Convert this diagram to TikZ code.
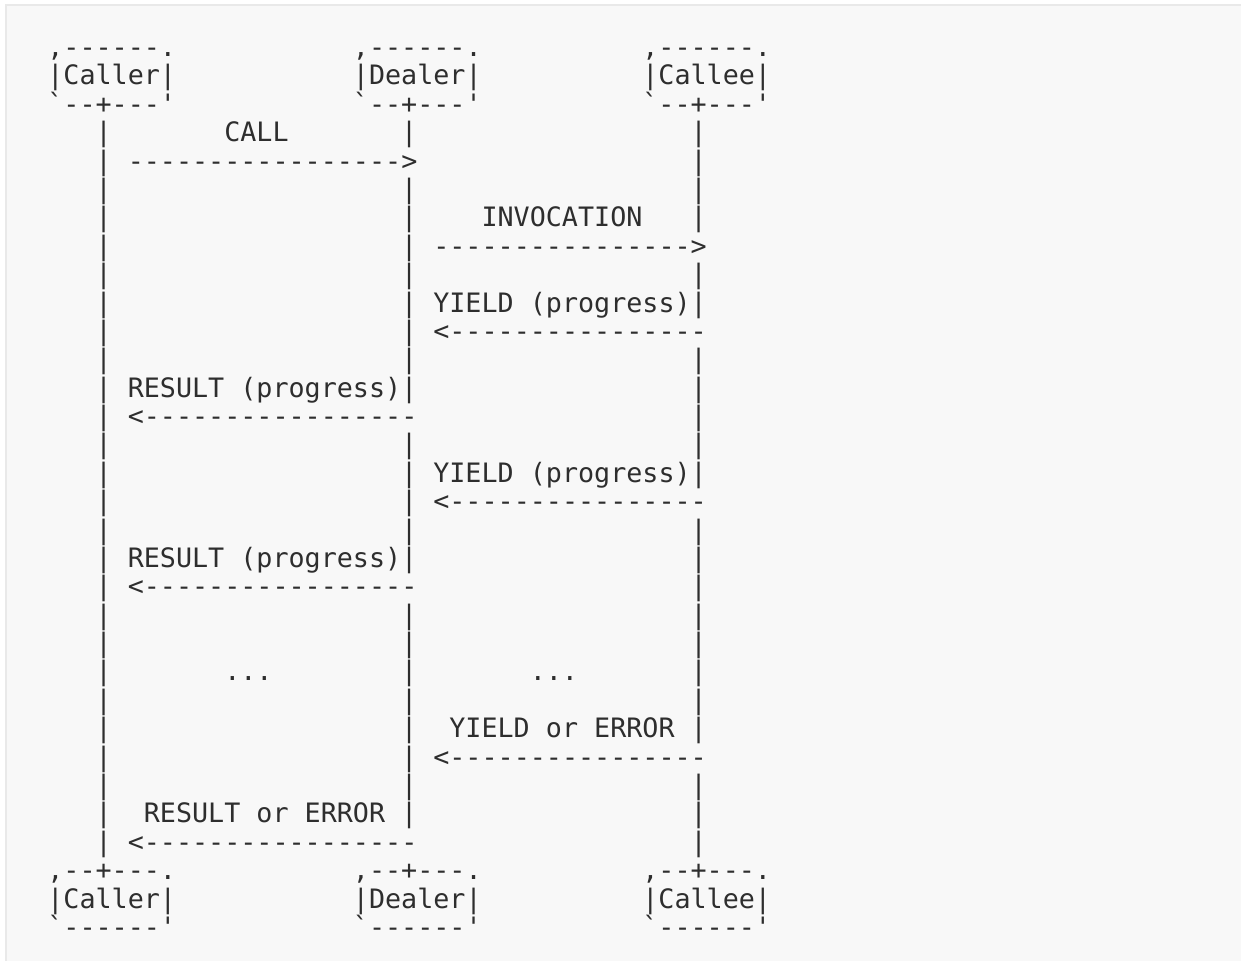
\documentclass[tikz,border=0pt]{standalone}
\usepackage{fontspec}
\setmonofont{DejaVu Sans Mono}
\definecolor{ink}{HTML}{2E2E2E}
\definecolor{paper}{HTML}{F8F8F8}
\definecolor{rim}{HTML}{E9E9E9}
\begin{document}
\begin{tikzpicture}[ascii/.style={font=\ttfamily\fontsize{13.36}{14}\selectfont,text=ink,inner sep=0pt,anchor=base west}]
\useasboundingbox (0,0) rectangle (620.5pt,-480.5pt);
\clip (0,0) rectangle (620.5pt,-480.5pt);
\fill[white] (0,0) rectangle (620.5pt,-480.5pt);
\filldraw[fill=paper,draw=rim,line width=.8pt] (3pt,-2.6pt) rectangle (640pt,-500pt);
\begin{scope}[x=8.04pt,y=-14.19pt,shift={(23.5pt,-28.3pt)}]
\foreach \who/\c in {Caller/0,Dealer/19,Callee/37}{
  \node[ascii] (\who-top) at (\c,0) {,------.};
  \node[ascii] (\who-name) at (\c,1) {|\who|};
  \node[ascii] (\who-foot) at (\c,2) {`--+---'};
  \node[ascii] (\who-top2) at (\c,29) {,--+---.};
  \node[ascii] (\who-name2) at (\c,30) {|\who|};
  \node[ascii] (\who-foot2) at (\c,31) {`------'};
}
\foreach \r in {3,...,28} \node[ascii] (callerLine\r) at (3,\r) {|};
\foreach \r in {3,5,6,7,8,9,10,11,12,14,15,16,17,18,20,21,22,23,24,25,26,27} \node[ascii] (dealerLine\r) at (22,\r) {|};
\foreach \r in {3,4,5,6,8,9,11,12,13,14,15,17,18,19,20,21,22,23,24,26,27,28} \node[ascii] (calleeLine\r) at (40,\r) {|};
\node[ascii] (call) at (11,3) {CALL};
\node[ascii] (callArrow) at (5,4) {----------------->};
\node[ascii] (invocation) at (27,6) {INVOCATION};
\node[ascii] (invocationArrow) at (24,7) {---------------->};
\foreach \r in {9,15}{
  \node[ascii] (yield\r) at (24,\r) {YIELD (progress)};
  \node[ascii] (yieldArrow\r) at (24,\r+1) {<----------------};
}
\foreach \r in {12,18}{
  \node[ascii] (result\r) at (5,\r) {RESULT (progress)};
  \node[ascii] (resultArrow\r) at (5,\r+1) {<-----------------};
}
\node[ascii] (gapLeft) at (11,22) {...};
\node[ascii] (gapRight) at (30,22) {...};
\node[ascii] (yieldEnd) at (25,24) {YIELD or ERROR};
\node[ascii] (yieldEndArrow) at (24,25) {<----------------};
\node[ascii] (resultEnd) at (6,27) {RESULT or ERROR};
\node[ascii] (resultEndArrow) at (5,28) {<-----------------};
\end{scope}
\end{tikzpicture}
\end{document}
